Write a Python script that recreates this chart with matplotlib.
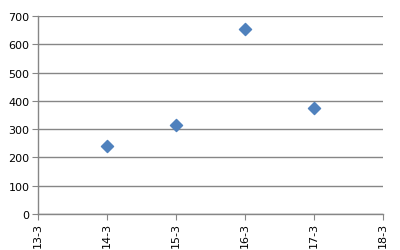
import matplotlib
matplotlib.use('Agg')
import matplotlib.pyplot as plt

categories = ['13-3', '14-3', '15-3', '16-3', '17-3', '18-3']
point_cats = ['14-3', '15-3', '16-3', '17-3']
values = [240, 314, 654, 375]
yticks = [0, 100, 200, 300, 400, 500, 600, 700]

fig = plt.figure(figsize=(4.0, 2.51), dpi=100)
ax = fig.add_axes([0.095, 0.1434, 0.8625, 0.7886])

xpos = [categories.index(c) for c in point_cats]
ax.scatter(xpos, values, marker='D', s=38, color='#4F81BD', edgecolors='#4F81BD', zorder=3)

ax.set_xlim(0, len(categories) - 1)
ax.set_ylim(0, 700)
ax.set_yticks(yticks)
ax.set_xticks(range(len(categories)))
ax.set_xticklabels(categories, rotation=90, fontsize=8)
ax.tick_params(axis='y', labelsize=8, length=4, color='#868686', pad=2)
ax.tick_params(axis='x', length=4, color='#868686', pad=2)
ax.yaxis.grid(True, color='#868686', linewidth=1)
ax.set_axisbelow(True)

for s in ['top', 'right']:
    ax.spines[s].set_visible(False)
for s in ['left', 'bottom']:
    ax.spines[s].set_color('#868686')
    ax.spines[s].set_linewidth(1)

fig.savefig('out.png', dpi=100)
